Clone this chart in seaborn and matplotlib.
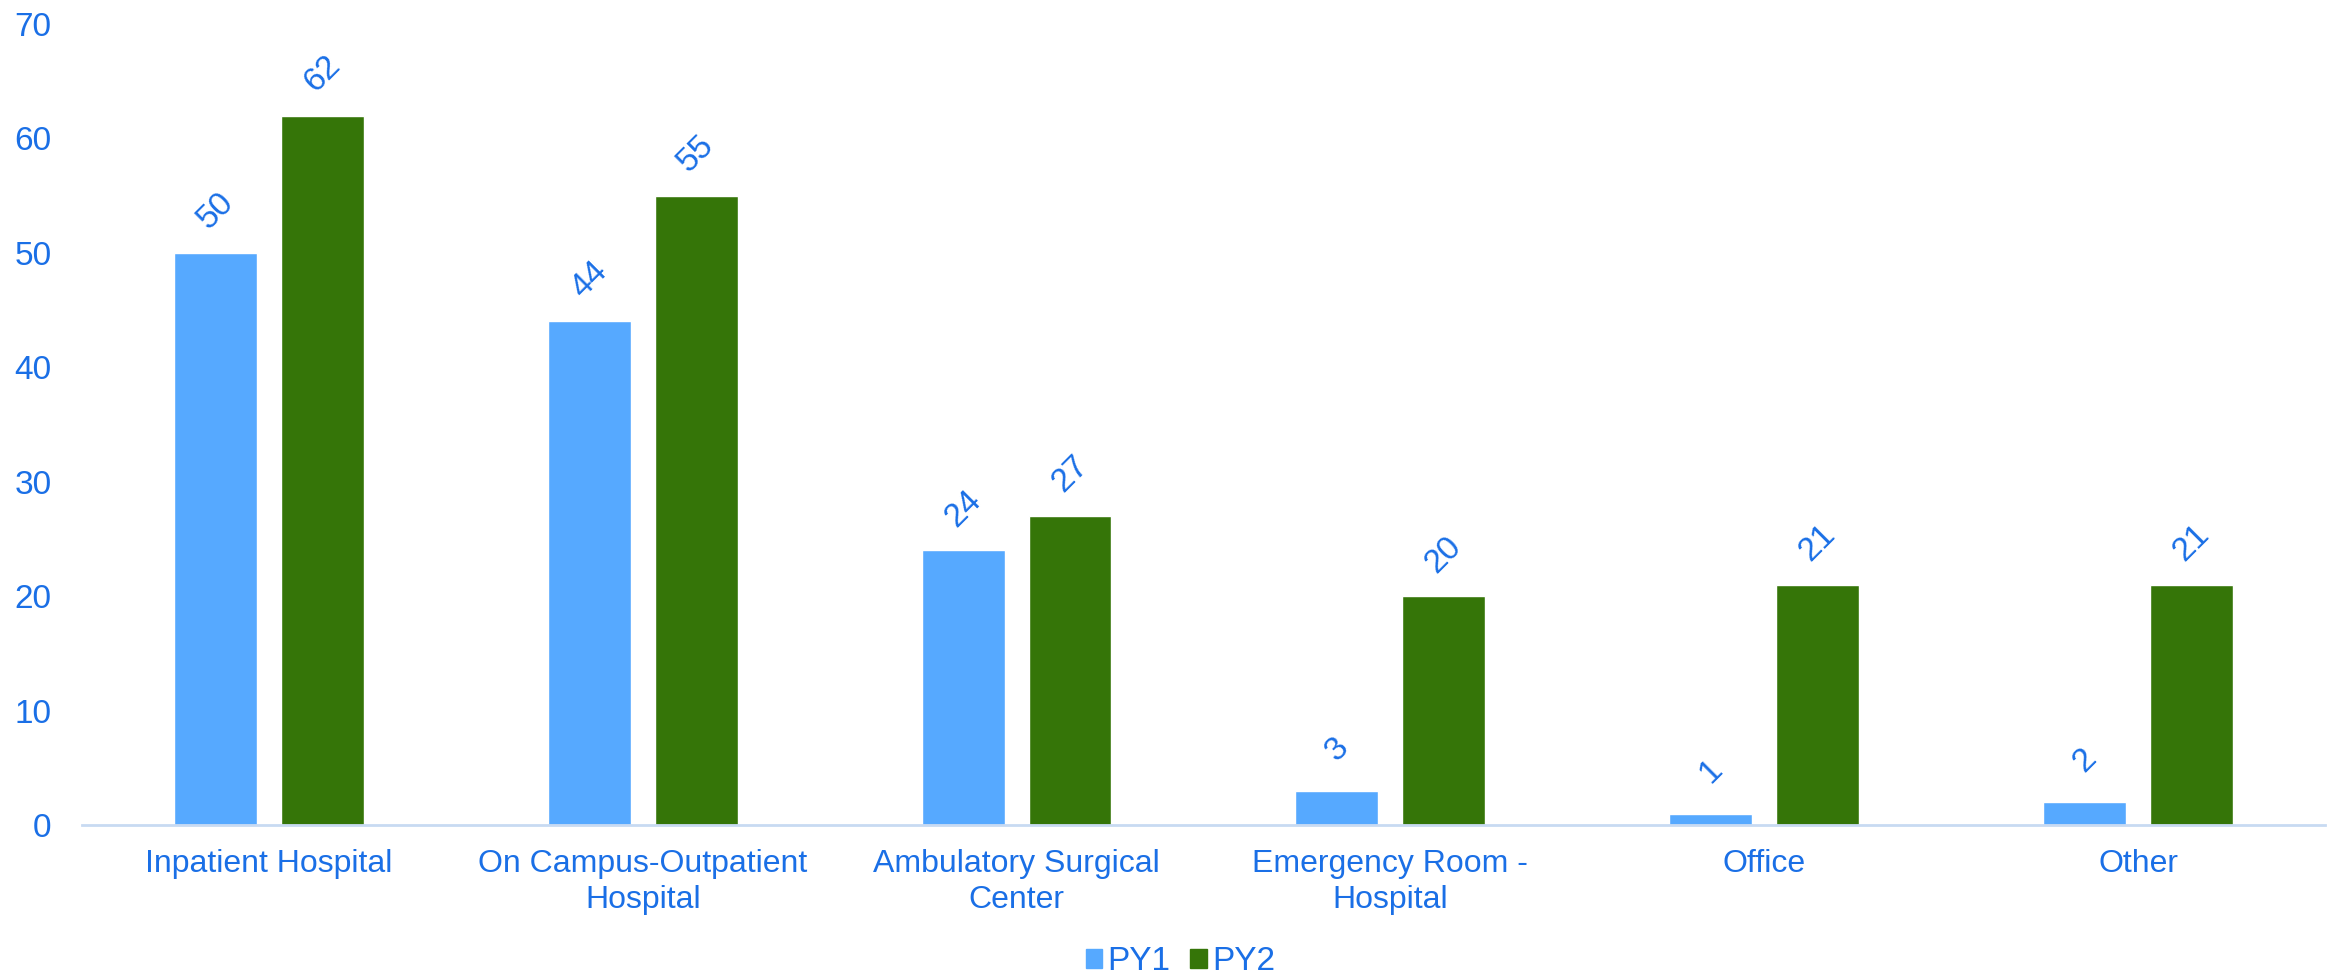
import pandas as pd
import numpy as np
import matplotlib
matplotlib.use('Agg')
import matplotlib.pyplot as plt
import seaborn as sns

# chart data
categories = ['Inpatient Hospital', 'On Campus-Outpatient\nHospital', 'Ambulatory Surgical\nCenter',
              'Emergency Room -\nHospital', 'Office', 'Other']
py1 = [50, 44, 24, 3, 1, 2]
py2 = [62, 55, 27, 20, 21, 21]
series = ['PY1', 'PY2']

TEXT = '#1A6FE6'
colors = {'PY1': '#56A9FF', 'PY2': '#357508'}

df = pd.DataFrame({
    'category': categories * 2,
    'value': py1 + py2,
    'series': ['PY1'] * len(py1) + ['PY2'] * len(py2),
})

sns.set_theme(style='white')
plt.rcParams['font.family'] = ['Liberation Sans', 'DejaVu Sans']

fig = plt.figure(figsize=(23.28, 9.74), dpi=100)
ax = fig.add_axes([0.0352, 0.153, 0.9635, 0.8224])

sns.barplot(data=df, x='category', y='value', hue='series', hue_order=series,
            palette=colors, width=0.572, gap=0.224, saturation=1, ax=ax, legend=False)

# rotated value labels above each bar
for container in ax.containers:
    for bar in container:
        h = bar.get_height()
        ax.annotate(f'{h:g}', (bar.get_x() + bar.get_width() / 2, h),
                    xytext=(0, 30), textcoords='offset points',
                    ha='center', va='center', rotation=45,
                    fontsize=24, color=TEXT)

ax.set_xlim(-0.5, 5.5)
ax.set_ylim(0, 70)
ax.set_yticks(range(0, 71, 10))
ax.set_xlabel('')
ax.set_ylabel('')

for side in ['top', 'right', 'left']:
    ax.spines[side].set_visible(False)
ax.spines['bottom'].set_color('#C8DAF2')
ax.spines['bottom'].set_linewidth(2)

ax.tick_params(axis='y', length=0, pad=22, labelsize=24, labelcolor=TEXT)
ax.tick_params(axis='x', length=0, pad=17, labelsize=23, labelcolor=TEXT)
for lbl in ax.get_xticklabels():
    lbl.set_linespacing(1.28)

handles = [plt.Rectangle((0, 0), 1, 1, color=colors[s]) for s in series]
fig.legend(handles, series, loc='center', bbox_to_anchor=(0.507, 0.013), ncol=2,
           frameon=False, fontsize=24, labelcolor=TEXT, handlelength=0.5, handleheight=0.5,
           handletextpad=0.15, columnspacing=0.6, borderpad=0)

fig.savefig('out.png', dpi=100, facecolor='white')
